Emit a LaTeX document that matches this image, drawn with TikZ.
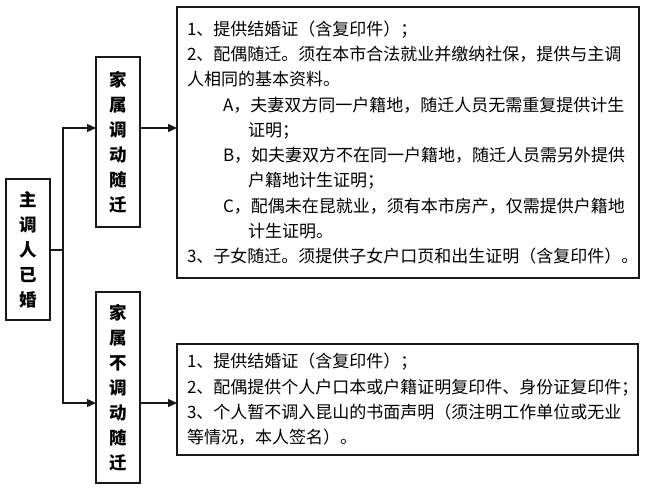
\documentclass[tikz,border=0pt]{standalone}
\usepackage{fontspec}
\setmainfont{Noto Sans CJK SC}
\usetikzlibrary{arrows.meta}
\begin{document}
\begin{tikzpicture}[x=1pt,y=-1pt,
  boxline/.style={draw=black!90,line width=1.4pt},
  vbox/.style={boxline,rectangle,minimum width=44pt,inner sep=0pt,align=center,
    font=\fontsize{17.5}{25}\selectfont\bfseries},
  tbox/.style={boxline,rectangle,inner xsep=10pt,inner ysep=0pt,align=left,
    font=\fontsize{17}{25.3}\selectfont},
  conn/.style={draw=black!90,line width=1.4pt},
  arr/.style={conn,-{Triangle[length=9pt,width=8pt]}}]
\useasboundingbox (0,0) rectangle (652,493);
\node[vbox,minimum height=141pt] (main) at (28,249.5) {主\\调\\人\\已\\婚};
\node[vbox,minimum height=170pt] (fam1) at (118,142) {家\\属\\调\\动\\随\\迁};
\node[vbox,minimum height=191pt] (fam2) at (118,387.5) {家\\属\\不\\调\\动\\随\\迁};
\node[tbox,text width=442pt,minimum height=271pt] (txt1) at (408,142.5) {%
1、提供结婚证（含复印件）；\\
2、配偶随迁。须在本市合法就业并缴纳社保，提供与主调\\
人相同的基本资料。\\
\hspace*{36pt}A，夫妻双方同一户籍地，随迁人员无需重复提供计生\\
\hspace*{61pt}证明；\\
\hspace*{36pt}B，如夫妻双方不在同一户籍地，随迁人员需另外提供\\
\hspace*{61pt}户籍地计生证明；\\
\hspace*{36pt}C，配偶未在昆就业，须有本市房产，仅需提供户籍地\\
\hspace*{61pt}计生证明。\\
3、子女随迁。须提供子女户口页和出生证明（含复印件）。};
\node[tbox,text width=441pt,minimum height=111pt] (txt2) at (407.5,399.5) {%
1、提供结婚证（含复印件）；\\
2、配偶提供个人户口本或户籍证明复印件、身份证复印件；\\
3、个人暂不调入昆山的书面声明（须注明工作单位或无业\\
等情况，本人签名）。};
\coordinate (j) at (63,250);
\coordinate (a1) at (96,128);
\coordinate (a2) at (96,403);
\coordinate (b1) at (177,128);
\coordinate (b2) at (177,403);
\draw[conn] (main.east |- j) -- (j);
\draw[arr] (j) |- (a1);
\draw[arr] (j) |- (a2);
\draw[arr] (fam1.east |- a1) -- (b1);
\draw[arr] (fam2.east |- a2) -- (b2);
\end{tikzpicture}
\end{document}
